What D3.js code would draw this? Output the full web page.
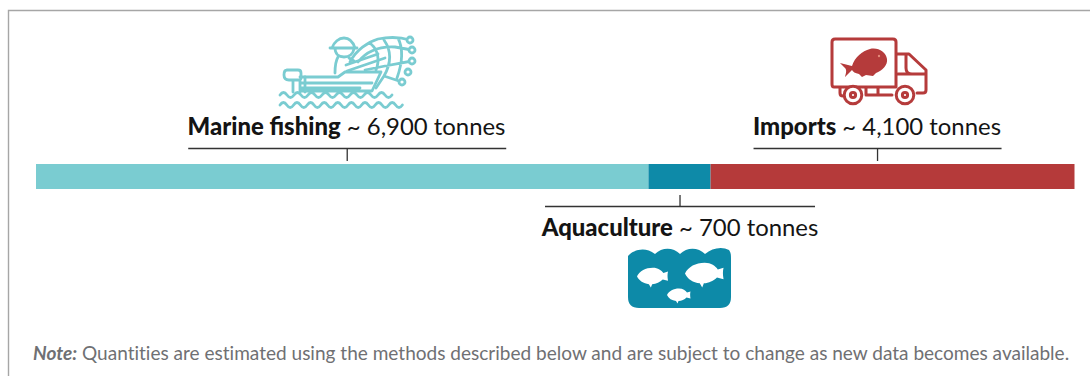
<!DOCTYPE html>
<html><head><meta charset="utf-8">
<script src="https://cdn.jsdelivr.net/npm/d3@7/dist/d3.min.js"></script>
<style>html,body{margin:0;padding:0;background:#fff}svg{display:block}</style>
</head><body><svg id="c" width="1090" height="376"></svg>
<script>
const sources = ["Marine fishing", "Aquaculture", "Imports"];
const tonnes = [6900, 700, 4100];
const amountLabels = ["~ 6,900 tonnes", "~ 700 tonnes", "~ 4,100 tonnes"];
const colours = ["#7accd1", "#0e8aa8", "#b53a3a"];
const noteLead = "Note:";
const noteBody = " Quantities are estimated using the methods described below and are subject to change as new data becomes available.";

const svg = d3.select("#c");
const total = d3.sum(tonnes);
const starts = d3.cumsum([0, ...tonnes.slice(0, -1)]);
const x = d3.scaleLinear().domain([0, total]).range([36, 1074.5]);
const barTop = 164, barH = 25;

svg.append("defs").append("filter").attr("id", "soft").append("feGaussianBlur").attr("stdDeviation", 0.45);

svg.append("path").attr("d", "M8.5,376V10.5H1090").attr("fill", "none").attr("stroke", "#a6a6a6").attr("stroke-width", 1.4);

svg.selectAll("rect.seg").data(tonnes).join("rect").attr("class", "seg")
  .attr("x", (d, i) => x(starts[i])).attr("width", d => x(d) - x(0))
  .attr("y", barTop).attr("height", barH).attr("fill", (d, i) => colours[i]);

// layout of each callout, relative to the centre of its bar segment
const layout = [
  {dx: 5, half: 159, above: true, text: 346.5},
  {dx: 0.5, half: 135, above: false, text: 680},
  {dx: -15, half: 124, above: true, text: 877}
];
const labelFont = "Lato, sans-serif";
tonnes.forEach((d, i) => {
  const cx = x(starts[i] + d / 2) + layout[i].dx, L = layout[i];
  const railY = L.above ? 148.5 : 206.5;
  const tickY = L.above ? 161 : 195;
  svg.append("line").attr("x1", cx - L.half).attr("x2", cx + L.half).attr("y1", railY).attr("y2", railY).attr("stroke", "#333").attr("stroke-width", 1.3);
  svg.append("line").attr("x1", cx).attr("x2", cx).attr("y1", railY).attr("y2", tickY).attr("stroke", "#333").attr("stroke-width", 1.3);
  const t = svg.append("text").attr("x", L.text).attr("y", L.above ? 135 : 236)
    .attr("text-anchor", "middle").attr("font-family", labelFont).attr("font-size", 23.9).attr("fill", "#141414");
  t.append("tspan").attr("font-weight", 900).text(sources[i]);
  t.append("tspan").text(" " + amountLabels[i]);
});

svg.append("text").attr("x", 33).attr("y", 360).attr("font-family", "Lato, sans-serif").attr("font-size", 19.05).attr("fill", "#6f7073")
  .style("font-variant-ligatures", "none")
  .call(t => { t.append("tspan").attr("font-style", "italic").attr("font-weight", 700).text(noteLead); t.append("tspan").text(noteBody); });

// Icons (decoration, not data)
const fish = "M0,16L12,19C15,10 22,4 30,2C38,0 46,5 47,12C48,18 42,24 36,26L33,29L26,28L22,30L19,27C15,26 13,25 12,23L5,30C6,26 7,23 5,21Z";
const pondFish = "M0,14C4,6 13,1 24,1C32,1 37,5 40,9L47,7C46,11 46,15 47,21L39,19C35,23 29,26 23,26L21,31L18,26C10,25 3,21 0,14Z";
const wavy = (x0, y, n, w, a) => { let p = `M${x0},${y}`; for (let k = 0; k < n; k++) p += ` q${w / 2},${k % 2 ? a : -a} ${w},0`; return p; };

// Marine fishing icon
const boat = svg.append("g").attr("filter", "url(#soft)").attr("fill", "none").attr("stroke", colours[0]).attr("stroke-width", 2.8).attr("stroke-linecap", "round").attr("stroke-linejoin", "round");
boat.append("path").attr("d", wavy(280, 95, 16, 7, 5));
boat.append("path").attr("d", wavy(280, 105, 18, 6.8, 5));
boat.append("path").attr("d", "M300,77H338L345,72L381,72L372,91H301M301,83H372M301,88H360");
boat.append("path").attr("d", "M287,70H298Q301,70 301,73V78Q301,80 298,80H289Q284,80 284,75Q284,70 287,70M293,80V92M300,80V92M305,77V92");
boat.append("path").attr("d", "M332,48C334,42 339,38 344,38C349,38 353,42 355,48M330,48H357M335,48C335,54 339,57 344,57C349,57 353,54 354,49");
boat.append("path").attr("d", "M338,57C335,62 335,68 335,73M349,58L354,61M347,71L385,58M346,65L378,54");
boat.append("path").attr("d", "M350,62C356,50 368,42 378,39C388,37 400,37 410,40M358,62C366,52 378,46 395,47L412,50M365,70L385,66L412,61M384,40C391,50 392,62 384,76L402,82M398,38C404,50 402,64 397,78M371,44C378,50 380,60 376,70M384,76L376,88");
[[410,40],[412,50],[412,61],[408,72],[402,82]].forEach(p => boat.append("circle").attr("cx", p[0]).attr("cy", p[1]).attr("r", 3).attr("fill", "#fff"));

// Truck icon
const truck = svg.append("g").attr("filter", "url(#soft)");
const tr = truck.append("g").attr("fill", "none").attr("stroke", colours[2]).attr("stroke-width", 3).attr("stroke-linejoin", "round").attr("stroke-linecap", "round");
tr.append("path").attr("d", "M832,84V42Q832,39 835,39H893Q896,39 896,42V87H834Q832,87 832,84M896,54H909L926,70V90Q926,93 923,93H917M898,74H926M906,54V68Q906,74 912,74");
tr.append("path").attr("d", "M840,88V93Q840,96 843,96M866,95H892M866,88V95M878,88V95");
tr.append("circle").attr("cx", 853).attr("cy", 95).attr("r", 8.8).attr("fill", "#fff");
tr.append("circle").attr("cx", 905).attr("cy", 95).attr("r", 8.8).attr("fill", "#fff");
tr.append("circle").attr("cx", 853).attr("cy", 95).attr("r", 2.6);
tr.append("circle").attr("cx", 905).attr("cy", 95).attr("r", 2.6);
truck.append("path").attr("d", fish).attr("transform", "translate(840,47)").attr("fill", colours[2]);
truck.append("circle").attr("cx", 879).attr("cy", 56).attr("r", 1.2).attr("fill", "#e58b7a");

// Aquaculture icon
const pond = svg.append("g").attr("filter", "url(#soft)");
pond.append("path").attr("fill", colours[1]).attr("d", "M628,256C633,250 645,246 655,254C662,247 673,247 680,254C687,247 698,247 705,254C712,248 722,246 729,250C731,253 731,255 731,258V297Q731,308 720,308H639Q628,308 628,297V258Z");
[[637,267,0.66],[685,262,0.82],[667,288,0.5]].forEach(f => {
  pond.append("path").attr("d", pondFish).attr("transform", `translate(${f[0]},${f[1]}) scale(${f[2]})`).attr("fill", "#fff");
});
</script></body></html>
